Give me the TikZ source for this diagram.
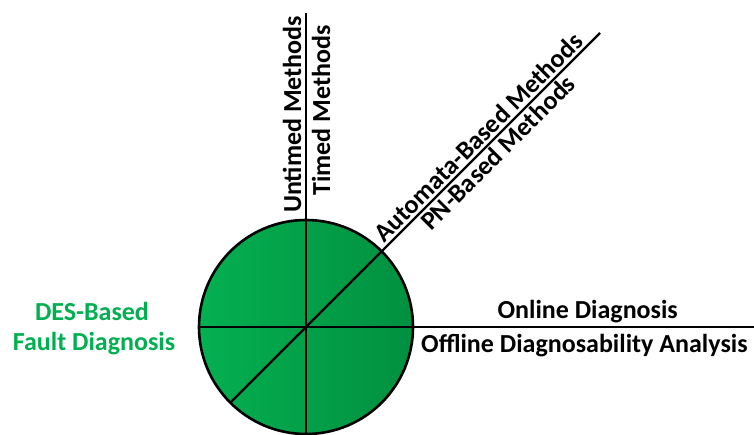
\documentclass[tikz,border=0pt]{standalone}
\usepackage{fontspec}
\setmainfont{Carlito}
\definecolor{desgreen}{RGB}{0,176,80}
\definecolor{diskL}{RGB}{4,176,80}
\definecolor{diskR}{RGB}{2,144,64}
\begin{document}
\begin{tikzpicture}[x=1pt,y=-1pt,
  lbl/.style={inner sep=0pt, font=\fontsize{26}{30}\selectfont\bfseries, text=black},
  glbl/.style={inner sep=0pt, font=\fontsize{26}{30}\selectfont\bfseries, text=desgreen},
  axis/.style={draw=black, line width=2.2pt},
  disk/.style={circle, draw=black, line width=2.6pt, inner sep=0pt, minimum size=214pt, left color=diskL, right color=diskR}]
\useasboundingbox (0,0) rectangle (754,434);
\node[disk] (circ) at (306,327) {};
\coordinate (c) at (306,327);
\coordinate (vtop) at (306,13);
\coordinate (vbot) at (306,434);
\coordinate (hleft) at (199,327);
\coordinate (hright) at (754,327);
\coordinate (dne) at (600,33);
\coordinate (dsw) at (230.3,402.7);
\draw[axis] (vtop) -- (vbot);
\draw[axis] (hleft) -- (hright);
\draw[axis] (dsw) -- (dne);
\node[lbl, rotate=90, anchor=base west] (untimed) at (301,213) {Untimed Methods};
\node[lbl, rotate=90, anchor=base west] (timed) at (330,196) {Timed Methods};
\node[lbl, rotate=45, anchor=base west] (automata) at (384,244) {Automata-Based Methods};
\node[lbl, rotate=45, anchor=base west] (pn) at (431,232) {PN-Based Methods};
\node[lbl, anchor=base east] (online) at (678,318) {Online Diagnosis};
\node[lbl, anchor=base west] (offline) at (421,352) {Offline Diagnosability Analysis};
\node[glbl, anchor=base] (des1) at (92,320) {DES-Based};
\node[glbl, anchor=base] (des2) at (94,350) {Fault Diagnosis};
\end{tikzpicture}
\end{document}
